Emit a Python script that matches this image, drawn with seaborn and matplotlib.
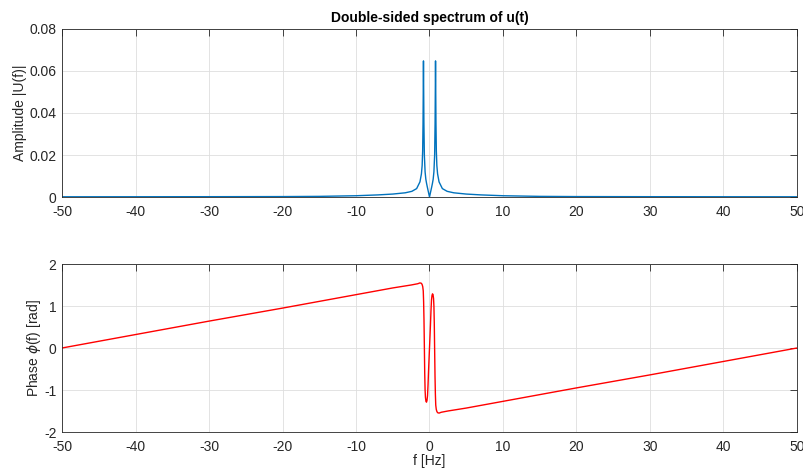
import numpy as np
import matplotlib
matplotlib.use("Agg")
import matplotlib.pyplot as plt
import seaborn as sns

# ---- data ----
f_amp = [-50, -40, -30, -20, -15, -10, -7, -5, -3.3, -2.4, -1.75, -1.3, -1.1, -1.0, -0.93,
         -0.88, -0.85, -0.82, -0.79, -0.76, -0.7, -0.6, -0.5, -0.4, -0.3, -0.2, -0.1, 0.0,
         0.1, 0.2, 0.3, 0.4, 0.5, 0.6, 0.7, 0.76, 0.79, 0.82, 0.85, 0.88, 0.93, 1.0, 1.1,
         1.3, 1.75, 2.4, 3.3, 5, 7, 10, 15, 20, 30, 40, 50]
amp = [0.0001, 0.00012, 0.00015, 0.0002, 0.0003, 0.0006, 0.0010, 0.0014, 0.0020, 0.0027,
       0.0040, 0.0072, 0.011, 0.015, 0.022, 0.035, 0.050, 0.0648, 0.050, 0.035, 0.020,
       0.012, 0.0085, 0.0065, 0.0048, 0.0032, 0.0016, 0.0,
       0.0016, 0.0032, 0.0048, 0.0065, 0.0085, 0.012, 0.020, 0.035, 0.050, 0.0648, 0.050,
       0.035, 0.022, 0.015, 0.011, 0.0072, 0.0040, 0.0027, 0.0020, 0.0014, 0.0010, 0.0006,
       0.0003, 0.0002, 0.00015, 0.00012, 0.0001]

f_ph = [-50, -40, -30, -20, -10, -5, -2.5, -1.6, -1.3, -1.1, -1.0, -0.92, -0.85, -0.80,
        -0.75, -0.70, -0.65, -0.60, -0.55, -0.48, -0.41, -0.34, -0.27, -0.20, -0.13, -0.06,
        0.0, 0.06, 0.13, 0.20, 0.27, 0.34, 0.41, 0.48, 0.55, 0.60, 0.65, 0.70, 0.75, 0.80,
        0.85, 0.92, 1.0, 1.1, 1.3, 1.6, 2.5, 5, 10, 20, 30, 40, 50]
phase = [0.00, 0.32, 0.64, 0.95, 1.27, 1.43, 1.50, 1.53, 1.55, 1.54, 1.51, 1.46, 1.36,
         1.10, 0.67, 0.05, -0.60, -1.00, -1.18, -1.27, -1.29, -1.25, -1.14, -0.88, -0.55,
         -0.25, 0.0, 0.25, 0.55, 0.88, 1.14, 1.25, 1.29, 1.27, 1.18, 1.00, 0.60, -0.05,
         -0.67, -1.10, -1.36, -1.46, -1.51, -1.54, -1.55, -1.53, -1.50, -1.43, -1.27, -0.95,
         -0.64, -0.32, 0.00]

x_ticks = [-50, -40, -30, -20, -10, 0, 10, 20, 30, 40, 50]
amp_ticks = [0, 0.02, 0.04, 0.06, 0.08]
amp_labels = ["0", "0.02", "0.04", "0.06", "0.08"]
ph_ticks = [-2, -1, 0, 1, 2]
ph_labels = ["-2", "-1", "0", "1", "2"]

sns.set_theme(style="white")
plt.rcParams["font.family"] = ["Liberation Sans", "DejaVu Sans"]
plt.rcParams["mathtext.fontset"] = "dejavusans"

FS = 10
TXT = "#262626"

fig = plt.figure(figsize=(8.04, 4.73), dpi=100)
fig.patch.set_facecolor("white")
ax1 = fig.add_axes([62 / 804, 1 - 197 / 473, 735 / 804, 168 / 473])
ax2 = fig.add_axes([62 / 804, 1 - 432 / 473, 735 / 804, 168 / 473])

sns.lineplot(x=f_amp, y=amp, ax=ax1, color="#0072BD", linewidth=1.0)
sns.lineplot(x=f_ph, y=phase, ax=ax2, color="#FF0000", linewidth=1.0)

for ax, yt, yl, ylim in [(ax1, amp_ticks, amp_labels, (0, 0.08)),
                         (ax2, ph_ticks, ph_labels, (-2, 2))]:
    ax.set_xlim(-50, 50)
    ax.set_ylim(*ylim)
    ax.set_xticks(x_ticks)
    ax.set_xticklabels([str(t) for t in x_ticks])
    ax.set_yticks(yt)
    ax.set_yticklabels(yl)
    ax.grid(True, color="#DEDEDE", linewidth=0.6)
    ax.set_axisbelow(True)
    ax.tick_params(direction="in", top=True, right=True, length=5.3, width=0.6,
                   color=TXT, labelcolor=TXT, labelsize=FS)
    ax.tick_params(axis="x", pad=6)
    ax.tick_params(axis="y", pad=4)
    for s in ax.spines.values():
        s.set_color(TXT)
        s.set_linewidth(0.6)
        s.set_visible(True)

ax1.set_title("Double-sided spectrum of u(t)", fontsize=FS, fontweight="bold",
              color="black", pad=5)
ax1.set_ylabel("Amplitude |U(f)|", fontsize=FS, color=TXT, labelpad=2)
ax2.set_ylabel("Phase $\\phi$(f) [rad]", fontsize=FS, color=TXT, labelpad=1)
ax2.set_xlabel("f [Hz]", fontsize=FS, color=TXT, labelpad=0)

fig.savefig("out.png", dpi=100)
